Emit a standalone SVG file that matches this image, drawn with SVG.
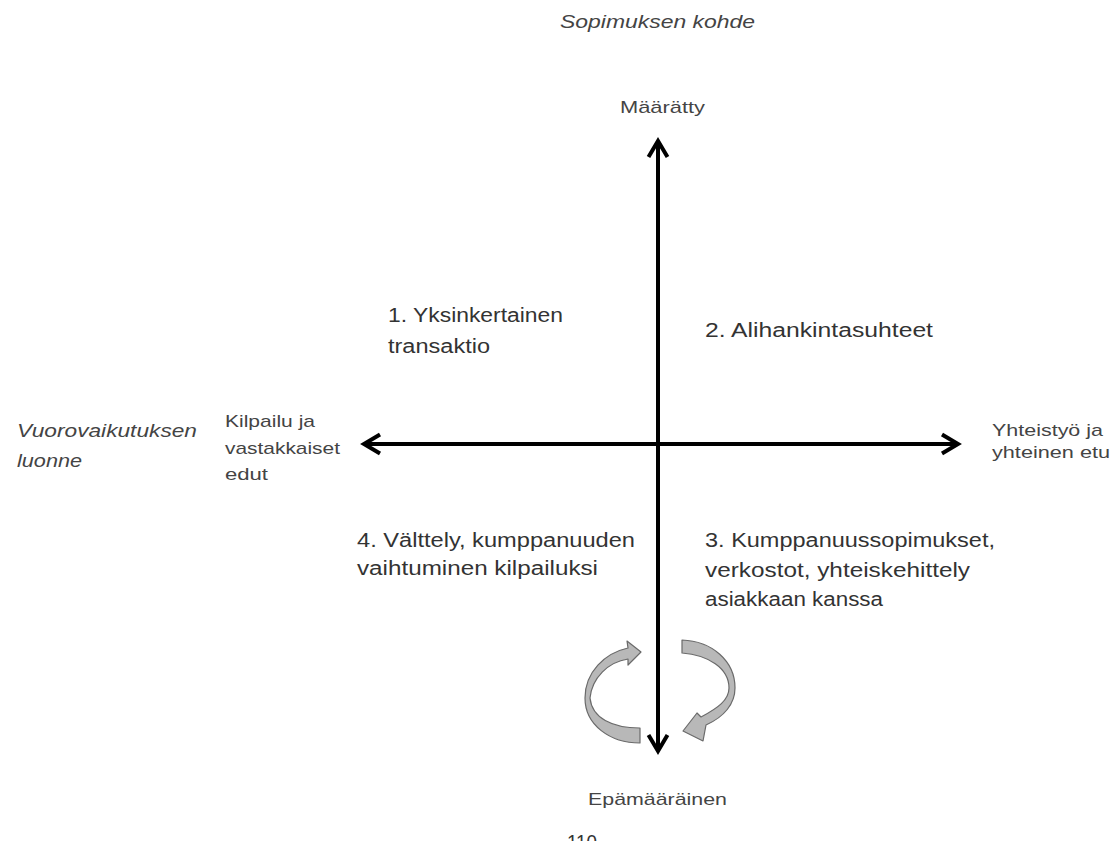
<svg xmlns="http://www.w3.org/2000/svg" width="1116" height="841" viewBox="0 0 1116 841">
<style>
.t{font-family:"Liberation Sans",Arial,sans-serif;fill:#333}
.big{font-size:20px}
.sm{font-size:17px;fill:#444}
.it{font-style:italic;fill:#444}
.axis{stroke:#000;stroke-width:4;fill:none}
.cyc{fill:#b8b8b8;stroke:#6a6a6a;stroke-width:1.2;stroke-linejoin:round}
</style>
<defs>
<marker id="ah" viewBox="0 0 24 24" refX="19" refY="12" markerWidth="24" markerHeight="24" markerUnits="userSpaceOnUse" orient="auto-start-reverse">
<path d="M3 2.5 L19 12 L3 21.5" fill="none" stroke="#000" stroke-width="4" stroke-linejoin="miter"/>
</marker>
</defs>
<rect width="1116" height="841" fill="#fff"/>
<g id="connectors">
<line class="axis" x1="658" y1="751" x2="658" y2="141" marker-start="url(#ah)" marker-end="url(#ah)"/>
<line class="axis" x1="364" y1="444" x2="958" y2="444" marker-start="url(#ah)" marker-end="url(#ah)"/>
</g>
<g id="title-top"><text class="t it" x="560" y="28" font-size="19" textLength="195" lengthAdjust="spacingAndGlyphs">Sopimuksen kohde</text></g>
<g id="title-left"><text class="t it" font-size="19" x="17" y="437" textLength="180" lengthAdjust="spacingAndGlyphs">Vuorovaikutuksen</text><text class="t it" font-size="19" x="17" y="467" textLength="65" lengthAdjust="spacingAndGlyphs">luonne</text></g>
<g id="top"><text class="t sm" x="620" y="113" textLength="85" lengthAdjust="spacingAndGlyphs">Määrätty</text></g>
<g id="bottom"><text class="t sm" x="588" y="805" textLength="139" lengthAdjust="spacingAndGlyphs">Epämääräinen</text></g>
<g id="left"><text class="t sm" x="225" y="427" textLength="90" lengthAdjust="spacingAndGlyphs">Kilpailu ja</text><text class="t sm" x="225" y="454" textLength="115" lengthAdjust="spacingAndGlyphs">vastakkaiset</text><text class="t sm" x="225" y="480" textLength="43" lengthAdjust="spacingAndGlyphs">edut</text></g>
<g id="right"><text class="t sm" x="992" y="436" textLength="111" lengthAdjust="spacingAndGlyphs">Yhteistyö ja</text><text class="t sm" x="992" y="458" textLength="118" lengthAdjust="spacingAndGlyphs">yhteinen etu</text></g>
<g id="q1"><text class="t big" x="388" y="322" textLength="175" lengthAdjust="spacingAndGlyphs">1. Yksinkertainen</text><text class="t big" x="388" y="353" textLength="102" lengthAdjust="spacingAndGlyphs">transaktio</text></g>
<g id="q2"><text class="t big" x="705" y="337" textLength="228" lengthAdjust="spacingAndGlyphs">2. Alihankintasuhteet</text></g>
<g id="q3"><text class="t big" x="705" y="547" textLength="290" lengthAdjust="spacingAndGlyphs">3. Kumppanuussopimukset,</text><text class="t big" x="705" y="577" textLength="265" lengthAdjust="spacingAndGlyphs">verkostot, yhteiskehittely</text><text class="t big" x="705" y="606" textLength="178" lengthAdjust="spacingAndGlyphs">asiakkaan kanssa</text></g>
<g id="q4"><text class="t big" x="357" y="547" textLength="278" lengthAdjust="spacingAndGlyphs">4. Välttely, kumppanuuden</text><text class="t big" x="357" y="575" textLength="241" lengthAdjust="spacingAndGlyphs">vaihtuminen kilpailuksi</text></g>
<g id="cycle-left"><path class="cyc" d="M640 743 C610 743 585 725 585 698 C585 672 605 653 628 648 L627 641 L641 652 L628 665 L628 659 C608 662 592 678 590 698 C592 718 612 728 640 728 Z"/></g>
<g id="cycle-right"><path class="cyc" d="M682 640 C712 641 735 661 735 688 C735 704 724 717 706 725 L703 741 L683 731 L697 713 L701 717 C718 708 729 700 729 688 C729 668 708 655 682 653 Z"/></g>
<g id="page"><text class="t" x="567" y="849" font-size="20" fill="#1c1c3a" textLength="30" lengthAdjust="spacingAndGlyphs">110</text></g>
</svg>
